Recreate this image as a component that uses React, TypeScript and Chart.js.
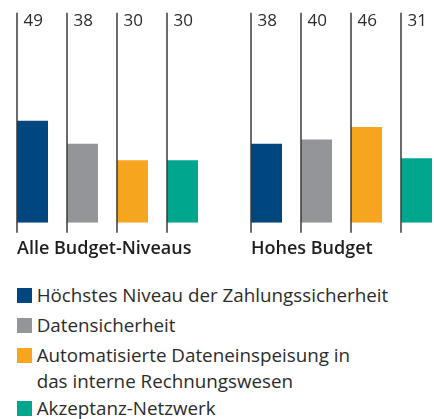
import React, { useEffect, useRef } from 'react';
import { Chart, registerables } from 'chart.js';

Chart.register(...registerables);

const categories = ['Alle Budget-Niveaus', 'Hohes Budget'];
const seriesNames = [
  'Höchstes Niveau der Zahlungssicherheit',
  'Datensicherheit',
  'Automatisierte Dateneinspeisung in\ndas interne Rechnungswesen',
  'Akzeptanz-Netzwerk',
];
const zahlungssicherheit = [49, 38];
const datensicherheit = [38, 40];
const dateneinspeisung = [30, 46];
const akzeptanzNetzwerk = [30, 31];
const seriesValues = [zahlungssicherheit, datensicherheit, dateneinspeisung, akzeptanzNetzwerk];
const seriesColors = ['#00467f', '#939598', '#f6a51e', '#00a68e'];

const TEXT = '#2b2b2b';
const FONT = '"Open Sans", "Liberation Sans", sans-serif';

const CAT_PCT = 200 / 234;
const BAR_PCT = 0.62;

const markerPlugin = {
  id: 'markers',
  afterDatasetsDraw(chart: any) {
    const ctx = chart.ctx;
    const area = chart.chartArea;
    ctx.save();
    chart.data.datasets.forEach((ds: any, di: number) => {
      const meta = chart.getDatasetMeta(di);
      meta.data.forEach((bar: any, i: number) => {
        const { x, width } = bar.getProps(['x', 'width'], true);
        const left = x - width / 2;
        ctx.strokeStyle = '#3a3a3a';
        ctx.lineWidth = 1.5;
        ctx.beginPath();
        ctx.moveTo(left, area.top);
        ctx.lineTo(left, area.bottom + 10);
        ctx.stroke();
        ctx.fillStyle = TEXT;
        ctx.font = '17px ' + FONT;
        ctx.textBaseline = 'middle';
        ctx.textAlign = 'left';
        ctx.fillText(String(ds.data[i]), left + 6.5, area.top + 8.5);
      });
    });
    ctx.restore();
  },
};

export default function App() {
  const canvasRef = useRef<HTMLCanvasElement | null>(null);

  useEffect(() => {
    if (!canvasRef.current) return;
    const chart = new Chart(canvasRef.current, {
      type: 'bar',
      data: {
        labels: categories,
        datasets: seriesValues.map((vals, i) => ({
          label: seriesNames[i].replace('\n', ' '),
          data: vals,
          backgroundColor: seriesColors[i],
          borderWidth: 0,
          barPercentage: BAR_PCT,
          categoryPercentage: CAT_PCT,
        })),
      },
      options: {
        responsive: false,
        animation: false,
        layout: { padding: { left: 10.5, right: 41.5, top: 12.7, bottom: 4.3 } },
        plugins: { legend: { display: false }, tooltip: { enabled: false } },
        scales: {
          x: {
            type: 'category',
            offset: true,
            grid: { display: false, drawTicks: false },
            border: { display: false },
            ticks: {
              align: 'start',
              labelOffset: -(234 * CAT_PCT / 2 - (234 * CAT_PCT / 4) * (1 - BAR_PCT) / 2),
              padding: 15.7,
              autoSkip: false,
              maxRotation: 0,
              color: '#1e1e1e',
              font: { family: FONT, size: 18, weight: '600' },
            },
          },
          y: { display: false, min: 0, max: 101 },
        },
      },
      plugins: [markerPlugin],
    });
    return () => chart.destroy();
  }, []);

  return (
    <div style={{ position: 'fixed', left: 0, top: 0, width: 434, height: 419, overflow: 'hidden', background: '#fff' }}>
      <canvas ref={canvasRef} width={520} height={280} style={{ position: 'absolute', left: -20, top: 0 }} />
      <div style={{ position: 'absolute', left: 17, top: 282, fontFamily: FONT, fontSize: 18.8, color: TEXT }}>
        {seriesNames.map((name, i) => {
          const prevMulti = i > 0 && seriesNames[i - 1].includes('\n');
          return (
            <div key={i} style={{ display: 'flex', alignItems: 'flex-start', marginTop: i === 0 ? 0 : prevMulti ? 0.5 : 3.4 }}>
              <span style={{ display: 'inline-block', width: 15, height: 15, background: seriesColors[i], marginTop: 5.8, marginRight: 4.7, flex: 'none' }} />
              <span style={{ whiteSpace: 'pre-line', lineHeight: '26.5px' }}>{name}</span>
            </div>
          );
        })}
      </div>
    </div>
  );
}
